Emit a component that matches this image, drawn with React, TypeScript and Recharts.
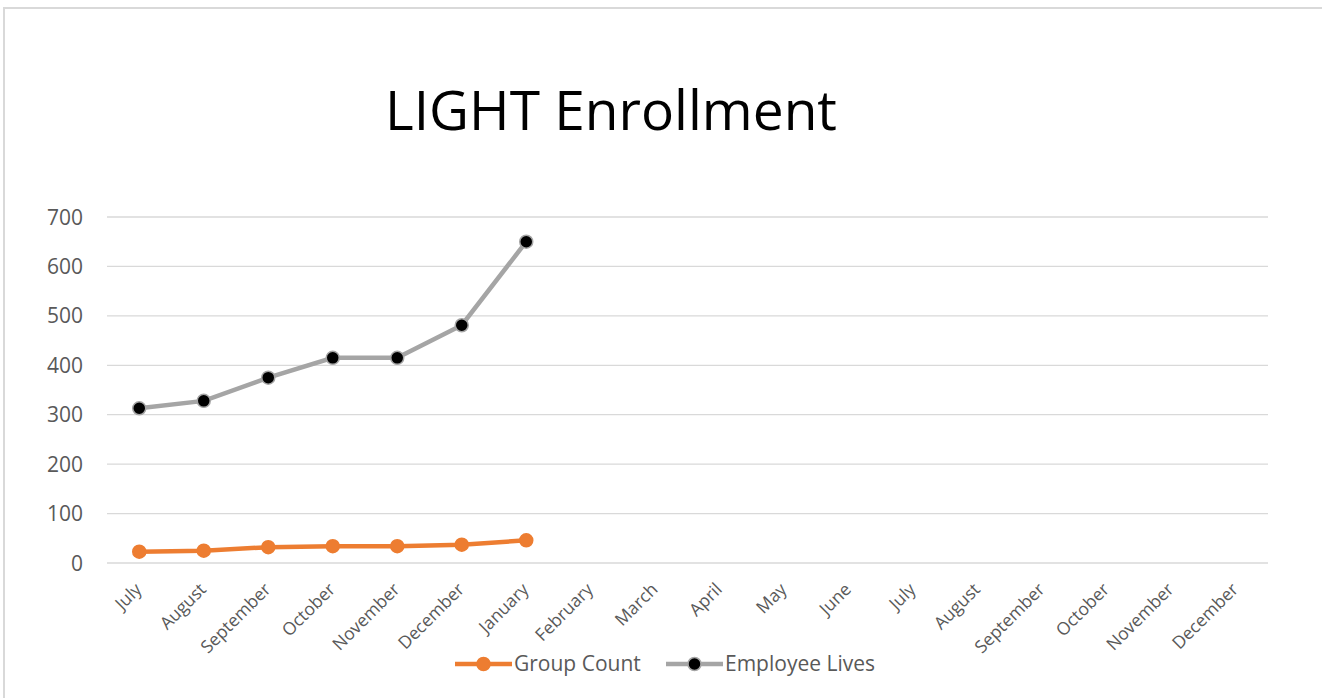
import React from "react";
import { LineChart, Line, XAxis, YAxis, CartesianGrid } from "recharts";

const months = [
  "July", "August", "September", "October", "November", "December",
  "January", "February", "March", "April", "May", "June",
  "July", "August", "September", "October", "November", "December",
];
const groupCount: (number | null)[] = [23, 25, 32, 34, 34, 37, 46];
const employeeLives: (number | null)[] = [313, 328, 375, 415, 415, 481, 650];
const yTicks = [0, 100, 200, 300, 400, 500, 600, 700];

const series = [
  { key: "group", name: "Group Count", color: "#ED7D31", dotFill: "#ED7D31", values: groupCount },
  { key: "lives", name: "Employee Lives", color: "#A5A5A5", dotFill: "#000000", values: employeeLives },
];

const data = months.map((m, i) => {
  const row: Record<string, string | number | null> = { idx: i, month: m };
  series.forEach((s) => {
    row[s.key] = i < s.values.length ? s.values[i] : null;
  });
  return row;
});

const FONT = "'Open Sans', sans-serif";

const XTick = (props: any) => {
  const { x, y, payload } = props;
  const ax = x - 5;
  const ay = y + 1;
  return (
    <text
      x={ax}
      y={ay}
      transform={`rotate(-45 ${ax} ${ay})`}
      textAnchor="end"
      fontFamily={FONT}
      fontSize={17.5}
      fill="#595959"
      dy={12}
    >
      {months[payload.value]}
    </text>
  );
};

const YTick = (props: any) => {
  const { x, y, payload } = props;
  return (
    <text x={x} y={y} dy={7.5} textAnchor="end" fontFamily={FONT} fontSize={21} fill="#595959">
      {payload.value}
    </text>
  );
};

export default function App() {
  return (
    <div style={{ position: "absolute", left: 0, top: 0, width: 1322, height: 698, background: "#fff" }}>
      <div
        style={{
          position: "absolute",
          left: 3,
          top: 7,
          width: 1319,
          height: 691,
          borderTop: "2px solid #D9D9D9",
          borderLeft: "2px solid #D9D9D9",
          boxSizing: "border-box",
        }}
      />
      <LineChart
        width={1322}
        height={698}
        data={data}
        margin={{ top: 217, right: 54, left: 0, bottom: 0 }}
        style={{ position: "absolute", left: 0, top: 0 }}
      >
        <CartesianGrid vertical={false} stroke="#D9D9D9" strokeWidth={1.3} />
        <XAxis
          dataKey="idx"
          type="category"
          scale="band"
          axisLine={false}
          tickLine={false}
          tickSize={0}
          tickMargin={18}
          height={135}
          interval={0}
          tick={<XTick />}
        />
        <YAxis
          domain={[0, 700]}
          ticks={yTicks}
          axisLine={false}
          tickLine={false}
          tickSize={0}
          tickMargin={24}
          width={107}
          tick={<YTick />}
        />
        {series.map((s) => (
          <Line
            key={s.key}
            dataKey={s.key}
            name={s.name}
            stroke={s.color}
            strokeWidth={4.5}
            isAnimationActive={false}
            connectNulls={false}
            dot={{ r: 6.5, fill: s.dotFill, stroke: s.color, strokeWidth: 1.5 }}
          />
        ))}
      </LineChart>
      <svg width={1322} height={698} style={{ position: "absolute", left: 0, top: 0, pointerEvents: "none" }}>
        <text x={611} y={130} textAnchor="middle" fontFamily={FONT} fontSize={55} fill="#000">
          LIGHT Enrollment
        </text>
        {series.map((s, i) => {
          const x0 = i === 0 ? 455 : 666;
          return (
            <g key={s.key}>
              <line x1={x0} x2={x0 + 57} y1={664} y2={664} stroke={s.color} strokeWidth={4.5} />
              <circle cx={x0 + 28.5} cy={664} r={6.5} fill={s.dotFill} stroke={s.color} strokeWidth={1.5} />
              <text x={x0 + 59} y={671} fontFamily={FONT} fontSize={21} fill="#595959">
                {s.name}
              </text>
            </g>
          );
        })}
      </svg>
    </div>
  );
}
